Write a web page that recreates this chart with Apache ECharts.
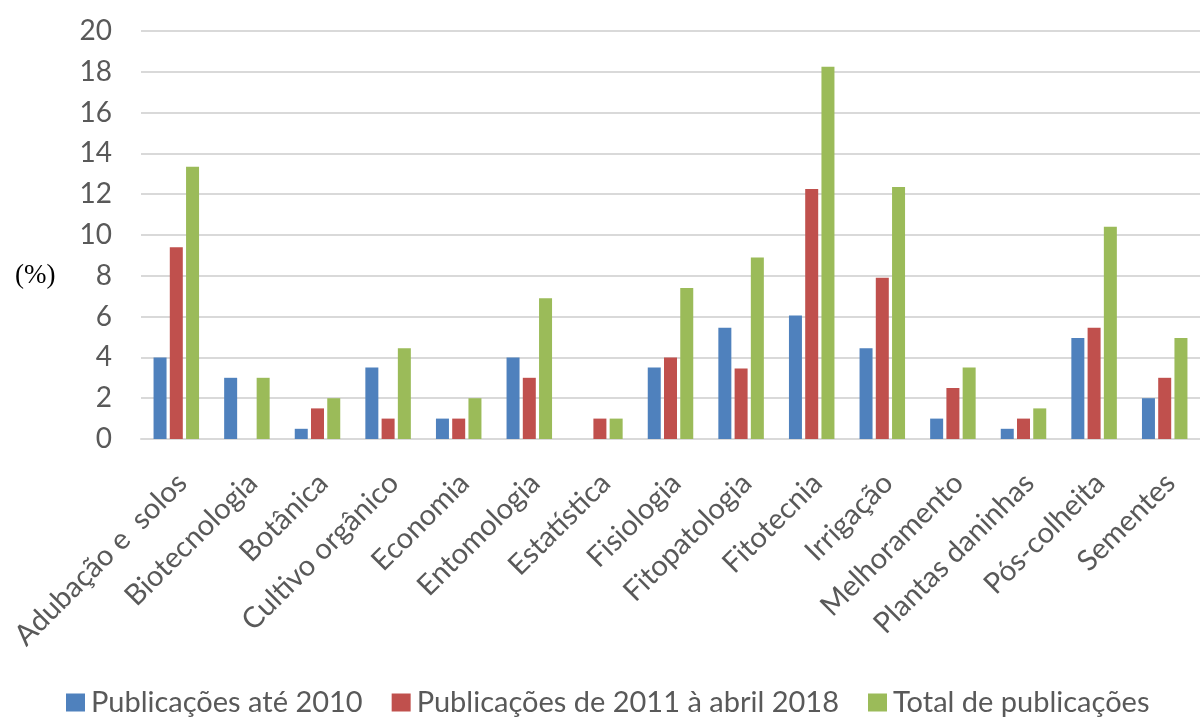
<!DOCTYPE html>
<html>
<head>
<meta charset="utf-8">
<script src="https://cdn.jsdelivr.net/npm/echarts@6/dist/echarts.min.js"></script>
<style>
  html, body { margin: 0; padding: 0; background: #fff; }
  #chart { width: 1200px; height: 717px; }
</style>
</head>
<body>
<div id="chart"></div>
<script>
// Áreas de pesquisa
const categories = [
  'Adubação e  solos', 'Biotecnologia', 'Botânica', 'Cultivo orgânico', 'Economia',
  'Entomologia', 'Estatística', 'Fisiologia', 'Fitopatologia', 'Fitotecnia',
  'Irrigação', 'Melhoramento', 'Plantas daninhas', 'Pós-colheita', 'Sementes'
];

// Percentual de publicações por período
const ate2010 = [4, 3, 0.5, 3.5, 1, 4, 0, 3.5, 5.45, 6.05, 4.45, 1, 0.5, 4.95, 2];
const de2011a2018 = [9.4, 0, 1.5, 1, 1, 3, 1, 4, 3.45, 12.25, 7.9, 2.5, 1, 5.45, 3];
const total = [13.35, 3, 2, 4.45, 2, 6.9, 1, 7.4, 8.9, 18.25, 12.35, 3.5, 1.5, 10.4, 4.95];

const seriesNames = ['Publicações até 2010', 'Publicações de 2011 à abril 2018', 'Total de publicações'];
const yTicks = { min: 0, max: 20, interval: 2 };
const yUnit = '(%)';

const colors = ['#4F81BD', '#C0504D', '#9BBB59'];
const labelFont = 'Lato, "Open Sans", sans-serif';

const chart = echarts.init(document.getElementById('chart'), null, { renderer: 'canvas' });

const dataSets = [ate2010, de2011a2018, total];

chart.setOption({
  animation: false,
  backgroundColor: '#ffffff',
  color: colors,
  grid: { left: 141, top: 31, width: 1069, bottom: 278, containLabel: false },
  graphic: [{
    type: 'text',
    left: 15,
    top: 262,
    style: {
      text: yUnit,
      font: '27px "Liberation Serif", serif',
      fill: '#000'
    }
  }],
  legend: {
    data: seriesNames,
    top: 688,
    left: 66,
    padding: 0,
    icon: 'rect',
    itemWidth: 19,
    itemHeight: 18,
    itemGap: 29,
    textStyle: { fontFamily: labelFont, fontSize: 29, color: '#595959', padding: [0, 0, 0, 1] }
  },
  xAxis: {
    type: 'category',
    data: categories,
    axisLine: { show: true, lineStyle: { color: '#D9D9D9', width: 2 } },
    axisTick: { show: false },
    axisLabel: {
      interval: 0,
      rotate: 45,
      margin: 45,
      padding: [0, -8, 0, 0],
      fontFamily: labelFont,
      fontSize: 29,
      color: '#595959'
    },
    splitLine: { show: false }
  },
  yAxis: {
    type: 'value',
    min: yTicks.min,
    max: yTicks.max,
    interval: yTicks.interval,
    axisLine: { show: false },
    axisTick: { show: false },
    axisLabel: { margin: 29, fontFamily: labelFont, fontSize: 28, color: '#595959' },
    splitLine: { lineStyle: { color: '#D9D9D9', width: 2 } }
  },
  series: seriesNames.map((name, i) => ({
    name,
    type: 'bar',
    data: dataSets[i],
    barWidth: 13,
    barGap: '25%',
    itemStyle: { color: colors[i], borderWidth: 0 }
  }))
});
</script>
</body>
</html>
